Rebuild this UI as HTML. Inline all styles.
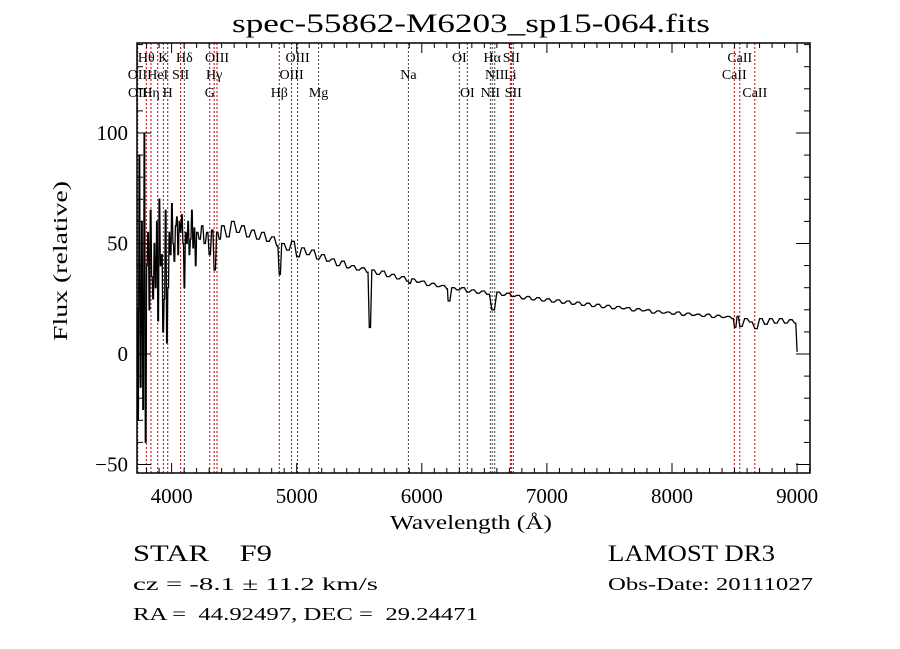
<!DOCTYPE html>
<html><head><meta charset="utf-8"><style>
html,body{margin:0;padding:0;background:#fff;}
svg{display:block;}
text{font-family:"Liberation Serif","DejaVu Serif",serif;fill:#000;white-space:pre;}
</style></head><body>
<svg id="chart" width="900" height="649" viewBox="0 0 900 649" xmlns="http://www.w3.org/2000/svg" xml:space="preserve">
<rect x="0" y="0" width="900" height="649" fill="#fff"/>
<text x="232" y="32" font-size="26" textLength="478" lengthAdjust="spacingAndGlyphs">spec-55862-M6203_sp15-064.fits</text>
<g id="lines"></g>
<g id="labels"></g>
<g id="spec"></g>
<g id="axes"></g>
<text x="390" y="529" font-size="20" textLength="162" lengthAdjust="spacingAndGlyphs">Wavelength (Å)</text>
<text transform="translate(67,341) rotate(-90)" font-size="20" textLength="160" lengthAdjust="spacingAndGlyphs">Flux (relative)</text>
<text x="133" y="561" font-size="23" textLength="139" lengthAdjust="spacingAndGlyphs">STAR    F9</text>
<text x="608" y="561" font-size="23" textLength="167" lengthAdjust="spacingAndGlyphs">LAMOST DR3</text>
<text x="133" y="590" font-size="18" textLength="245" lengthAdjust="spacingAndGlyphs">cz = -8.1 ± 11.2 km/s</text>
<text x="608" y="590" font-size="18" textLength="205" lengthAdjust="spacingAndGlyphs">Obs-Date: 20111027</text>
<text x="133" y="620" font-size="18" textLength="345" lengthAdjust="spacingAndGlyphs">RA =  44.92497, DEC =  29.24471</text>
</svg>
<script>
const wave=[3720,3730,3740,3750,3760,3770,3780,3790,3800,3810,3820,3830,3840,3850,3860,3870,3880,3890,3900,3910,3920,3930,3940,3950,3960,3970,3980,3990,4000,4010,4020,4030,4040,4050,4060,4070,4080,4090,4100,4110,4120,4130,4140,4150,4160,4170,4180,4190,4200,4220,4240,4260,4280,4300,4320,4340,4360,4380,
4400,4440,4480,4520,4560,4600,4640,4680,4720,4760,4800,4840,4860,4880,4920,4960,5000,5040,5080,5120,5160,5200,5240,5280,5320,5360,5400,5440,5480,5520,5560,5580,5600,5640,5680,5720,5760,5800,5840,5880,5900,5920,5960,6000,6040,6080,6120,6160,6200,6210,6240,6280,6320,6360,6400,6440,6480,6520,6560,6600,6640,6680,6720,6760,6800,6840,6880,6920,6960,7000,7040,7080,7120,7160,7200,7240,7280,7320,7360,7400,7440,7480,7520,7560,7600,7640,7680,7720,7760,7800,7840,7880,7920,7960,8000,8040,8080,8120,8160,8200,8240,8280,8320,8360,8400,8440,8480,8500,8520,8542,8580,8620,8662,8700,8740,8780,8820,8860,8900,8940,8980,9000];
const flux=[20,-30,90,-15,60,-25,100,-40,40,55,20,65,35,25,50,30,60,15,70,40,45,10,25,65,5,30,55,45,68,50,42,58,62,45,60,55,63,50,30,55,50,60,45,52,65,48,57,40,55,52,58,50,55,45,56,38,55,52,
58,53,60,55,58,53,56,52,55,51,53,49,36,50,47,51,44,48,45,47,43,45,42,43,40,42,39,40,38,39,37,12,38,36,37.5,35,36,34,35,33,32,34,32.5,33,31,32,30.5,31,29.5,24,30,29,30,28,29,27.5,28.5,27,20,28,26.5,27.5,26,26.5,25,26,24.5,25.5,24,25,23.5,24.5,23,24,22.5,23.5,22,23,21.5,22.5,21,22,20.5,21.5,20.5,21,19.5,20.5,19.5,20,18.5,19.5,18.5,19,18,19,17.5,18.5,17.5,18,17,18,16.5,17.5,16.5,17,16,12,17,12.5,16,14.5,11.5,16,13.5,16,14,16,14,15.5,14,1];
const lineWave=[3727,3729,3798,3835,3889,3934,3969,4072,4102,4305,4340,4363,4861,4959,5007,5175,5893,6300,6364,6548,6563,6583,6708,6716,6731,8498,8542,8662];
const lineName=["OII","OII","Hθ","Hη","HeI","K","H","SII","Hδ","G","Hγ","OIII","Hβ","OIII","OIII","Mg","Na","OI","OI","NII","Hα","NII","Li","SII","SII","CaII","CaII","CaII"];
const lineRow=[2,3,1,3,2,1,3,2,1,3,2,1,3,2,1,3,2,1,3,3,1,2,2,1,3,2,1,3];
const lineBlack=[0,0,0,0,0,0,0,0,1,0,0,0,0,0,0,1,1,0,0,1,1,1,0,0,0,0,0,0];
const xTickLabels=["4000","5000","6000","7000","8000","9000"];
const yTickLabels=["100","50","0","-50"];

const L=137,R=810,T=43,B=473;
const X=w=>171.6+(w-4000)*0.1251;
const Y=f=>354-f*2.21;
const NS="http://www.w3.org/2000/svg";
function mk(tag,attrs,parent){const e=document.createElementNS(NS,tag);for(const k in attrs)e.setAttribute(k,attrs[k]);parent.appendChild(e);return e;}
const gl=document.getElementById('lines'),glab=document.getElementById('labels'),gs=document.getElementById('spec'),ga=document.getElementById('axes');
const rowY=[0,62,79,97];
lineWave.forEach((w,i)=>{
  const x=X(w);
  const ln=mk('line',{x1:x,x2:x,y1:T,y2:B,stroke:lineBlack[i]?'#444':'#c00000','stroke-width':1,'stroke-dasharray':'2,2'},gl);
  
  
  const t=mk('text',{x:x,y:rowY[lineRow[i]],'font-size':14,'text-anchor':'middle'},glab);
  t.textContent=lineName[i];
  
  
});
let d='';
wave.forEach((w,i)=>{const x=X(w),y=Y(flux[i]);d+=(i?'L':'M')+x.toFixed(1)+','+y.toFixed(1);if(i<wave.length-1){const xn=X(wave[i+1]);d+='L'+((x+xn)/2).toFixed(1)+','+y.toFixed(1);} });
const sp=mk('path',{d:d,fill:'none',stroke:'#000','stroke-width':1.3},gs);


const fr=mk('rect',{x:L,y:T,width:R-L,height:B-T,fill:'none',stroke:'#000','stroke-width':1.5},ga);


for(let w=3800;w<=9100;w+=100){const x=X(w);if(x<L||x>R)continue;const maj=w%1000===0;const h=maj?10:5;
  mk('line',{x1:x,x2:x,y1:B,y2:B-h,stroke:'#000'},ga);mk('line',{x1:x,x2:x,y1:T,y2:T+h,stroke:'#000'},ga);}
xTickLabels.forEach(s=>{const t=mk('text',{x:X(+s),y:503,'font-size':21,'text-anchor':'middle','font-family':'Liberation Sans, sans-serif'},ga);t.textContent=s;
  
  });
for(let f=-50;f<=140;f+=10){const y=Y(f);if(y<T||y>B)continue;const maj=f%50===0;const h=maj?14:6;
  mk('line',{x1:L,x2:L+h,y1:y,y2:y,stroke:'#000'},ga);mk('line',{x1:R,x2:R-h,y1:y,y2:y,stroke:'#000'},ga);}
yTickLabels.forEach(s=>{const t=mk('text',{x:128,y:Y(+s)+7,'font-size':21,'text-anchor':'end','font-family':'Liberation Sans, sans-serif'},ga);t.textContent=s.replace('-','−');
  
  });
</script>
</body></html>
